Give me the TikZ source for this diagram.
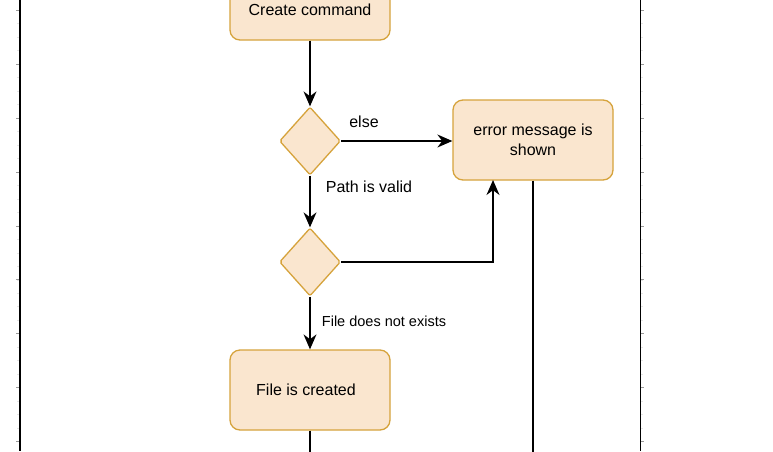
\documentclass[tikz,border=0pt]{standalone}
\usepackage{fontspec}
\setmainfont{Liberation Sans}
\usepackage{tikz}
\usetikzlibrary{arrows.meta,positioning,shapes.geometric,calc}
\definecolor{peach}{HTML}{FAE6CF}
\definecolor{gold}{HTML}{D6A33C}
\definecolor{rule}{HTML}{9A9A9A}

\begin{document}
\begin{tikzpicture}[
  x=1pt,y=-1pt,
  act/.style={rectangle,rounded corners=10pt,draw=gold,fill=peach,line width=1.3pt,
    minimum width=160pt,minimum height=80pt,inner sep=0pt,align=center},
  dec/.style={diamond,draw=gold,fill=peach,line width=1.3pt,rounded corners=2pt,
    minimum width=61pt,minimum height=68pt,inner sep=0pt},
  arr/.style={-{Stealth[length=15pt,width=13pt]},line width=1.4pt},
  lane/.style={line width=1.8pt},
  every node/.style={font=\fontsize{16}{20}\selectfont}
]
  \clip (0,0) rectangle (773,451);
  \fill[white] (0,0) rectangle (773,451);
  % lane borders and ruler ticks
  \foreach \k in {0,...,32} {
    \draw[rule!25,line width=0.6pt] (17,10.3+13.475*\k) -- (20,10.3+13.475*\k);
    \draw[rule!25,line width=0.6pt] (641,10.3+13.475*\k) -- (643,10.3+13.475*\k);
  }
  \foreach \k in {0,...,8} {
    \draw[rule,line width=0.7pt] (16,10.3+53.9*\k) -- (20,10.3+53.9*\k);
    \draw[rule,line width=0.7pt] (641,10.3+53.9*\k) -- (644,10.3+53.9*\k);
  }
  \draw[lane] (20,0) -- (20,451);
  \draw[lane] (640.5,0) -- (640.5,451);

  \node[act,minimum height=60pt] (cmd) at (310,10) {Create command};
  \node[dec] (d1) at (310,141) {};
  \node[dec] (d2) at (310,262) {};
  \node[act] (err) at (533,140) {error message is\\shown};
  \node[act] (made) at (310,390) {File is created\hspace*{8pt}};
  \coordinate (errin) at (493,180);
  \coordinate (outA) at (310,460);
  \coordinate (outB) at (533,460);

  \draw[arr] (cmd) -- (d1);
  \draw[arr] (d1.east) -- (d1.east -| err.west);
  \draw[arr] (d1) -- (d2);
  \draw[arr] (d2.east) -| (errin);
  \draw[arr] (d2) -- (made);
  \draw[line width=1.4pt] (made) -- (outA);
  \draw[line width=1.4pt] (err) -- (outB);

  \node at (364,122) {else};
  \node at (369,187) {Path is valid};
  \node[font=\fontsize{14.5}{17}\selectfont] at (384,321) {File does not exists};
\end{tikzpicture}
\end{document}
